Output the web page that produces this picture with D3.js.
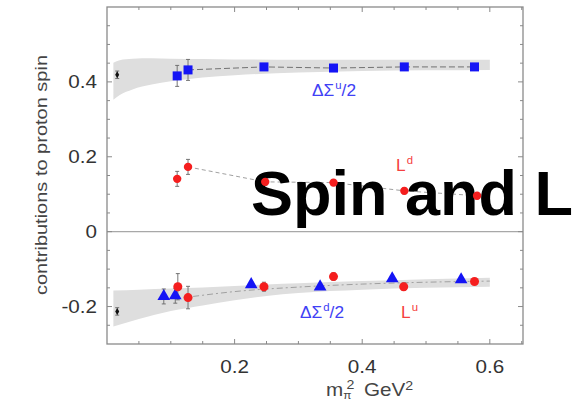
<!DOCTYPE html>
<html><head><meta charset="utf-8">
<script src="https://cdn.jsdelivr.net/npm/d3@7"></script>
<style>body{margin:0;background:#fff}svg{display:block}</style>
</head><body>
<svg id="c" width="580" height="406"></svg>
<script>
// ---- data ----
const xTicks = [0.2, 0.4, 0.6];
const yTicks = [-0.2, 0, 0.2, 0.4];
const xTickLabels = ["0.2", "0.4", "0.6"];
const yTickLabels = ["-0.2", "0", "0.2", "0.4"];

const sigUx = [0.110, 0.127, 0.246, 0.355, 0.466, 0.576];
const sigUy = [0.416, 0.432, 0.440, 0.437, 0.440, 0.440];
const sigUe = [0.028, 0.028, 0.008, 0.006, 0.005, 0.005];

const lDx = [0.110, 0.127, 0.248, 0.355, 0.466, 0.580];
const lDy = [0.141, 0.173, 0.133, 0.131, 0.109, 0.096];
const lDe = [0.020, 0.020, 0.010, 0.008, 0.008, 0.008];

const sigDx = [0.089, 0.107, 0.226, 0.334, 0.447, 0.555];
const sigDy = [-0.173, -0.171, -0.141, -0.147, -0.125, -0.128];
const sigDe = [0.020, 0.020, 0.008, 0.006, 0.006, 0.006];

const lUx = [0.111, 0.127, 0.246, 0.355, 0.465, 0.576];
const lUy = [-0.147, -0.176, -0.147, -0.120, -0.147, -0.133];
const lUe = [0.035, 0.030, 0.012, 0.010, 0.010, 0.008];

const physX = [0.016, 0.016];
const physY = [0.419, -0.213];
const physE = [0.010, 0.010];

const bandUx   = [0.01, 0.02, 0.04, 0.07, 0.10, 0.15, 0.20, 0.30, 0.40, 0.50, 0.60];
const bandUtop = [0.451, 0.458, 0.462, 0.463, 0.462, 0.461, 0.460, 0.459, 0.459, 0.459, 0.459];
const bandUbot = [0.352, 0.365, 0.380, 0.393, 0.402, 0.412, 0.418, 0.425, 0.429, 0.431, 0.432];

const bandDx   = [0.01, 0.05, 0.10, 0.15, 0.20, 0.25, 0.30, 0.40, 0.50, 0.60];
const bandDtop = [-0.157, -0.155, -0.152, -0.149, -0.145, -0.141, -0.138, -0.132, -0.127, -0.123];
const bandDbot = [-0.253, -0.233, -0.212, -0.197, -0.183, -0.172, -0.164, -0.155, -0.150, -0.147];

const fitDx = [0.135, 0.20, 0.30, 0.40, 0.50, 0.60];
const fitDy = [-0.173, -0.160, -0.148, -0.140, -0.135, -0.132];

// ---- layout ----
const L = 107, R = 523, T = 7, B = 344;
const x = d3.scaleLinear().domain([0, 0.652]).range([L, R]);
const y = d3.scaleLinear().domain([-0.3, 0.6]).range([B, T]);
const svg = d3.select("#c");
const font = "'Liberation Sans', Arial, Helvetica, sans-serif";
const BLUE = "#1414f5", RED = "#f51e1e";
const SX = 1.18; // horizontal stretch of the original figure's lettering

const zip = (xs, ys, es) => xs.map((v, i) => ({x: v, y: ys[i], e: es ? es[i] : 0}));

// bands
function band(xs, top, bot) {
  const d = xs.map((v, i) => ({x: v, t: top[i], b: bot[i]}));
  svg.append("path").datum(d)
    .attr("d", d3.area().x(p => x(p.x)).y0(p => y(p.b)).y1(p => y(p.t)).curve(d3.curveMonotoneX))
    .attr("fill", "#dedede");
}
band(bandUx, bandUtop, bandUbot);
band(bandDx, bandDtop, bandDbot);

// zero line
svg.append("line").attr("x1", L).attr("x2", R).attr("y1", y(0)).attr("y2", y(0))
  .attr("stroke", "#a8a8a8").attr("stroke-width", 1.4);

// frame
svg.append("rect").attr("x", L).attr("y", T).attr("width", R - L).attr("height", B - T)
  .attr("fill", "none").attr("stroke", "#8a8a8a").attr("stroke-width", 1.3);

// ticks (inward, all sides)
const minorX = d3.range(0.05, 0.651, 0.05);
const minorY = d3.range(-0.25, 0.551, 0.05);
const tg = svg.append("g").attr("stroke", "#8a8a8a").attr("stroke-width", 1);
minorX.forEach(v => {
  const len = Math.round(v * 20) % 4 === 0 ? 5 : 3;
  tg.append("line").attr("x1", x(v)).attr("x2", x(v)).attr("y1", B).attr("y2", B - len);
  tg.append("line").attr("x1", x(v)).attr("x2", x(v)).attr("y1", T).attr("y2", T + len);
});
minorY.forEach(v => {
  const len = Math.abs(Math.round(v * 20)) % 4 === 0 ? 5 : 3;
  tg.append("line").attr("x1", L).attr("x2", L + len).attr("y1", y(v)).attr("y2", y(v));
  tg.append("line").attr("x1", R).attr("x2", R - len).attr("y1", y(v)).attr("y2", y(v));
});

// tick labels (stretched horizontally like the source figure)
svg.append("g").selectAll("text").data(xTicks).join("text")
  .attr("transform", d => `translate(${x(d)},373) scale(${SX},1)`).attr("text-anchor", "middle")
  .attr("font-family", font).attr("font-size", 17.5).attr("fill", "#333")
  .text((d, i) => xTickLabels[i]);
svg.append("g").selectAll("text").data(yTicks).join("text")
  .attr("transform", d => `translate(97,${y(d) + 6.5}) scale(${SX},1)`).attr("text-anchor", "end")
  .attr("font-family", font).attr("font-size", 17.5).attr("fill", "#333")
  .text((d, i) => yTickLabels[i]);

// axis titles
svg.append("text").attr("transform", "translate(47,175) rotate(-90)")
  .attr("text-anchor", "middle").attr("font-family", font).attr("font-size", 17).attr("fill", "#444")
  .attr("textLength", 240).attr("lengthAdjust", "spacingAndGlyphs")
  .text("contributions to proton spin");
const xt = svg.append("text").attr("transform", `translate(326,396) scale(${SX},1)`)
  .attr("font-family", font).attr("font-size", 17.5).attr("fill", "#444");
xt.append("tspan").text("m");
xt.append("tspan").attr("font-size", 10).attr("dy", 3).text("π");
xt.append("tspan").attr("font-size", 12).attr("dx", -4).attr("dy", -10).text("2");
xt.append("tspan").attr("dx", 8).attr("dy", 7).text("GeV");
xt.append("tspan").attr("font-size", 12).attr("dy", -6).text("2");

// connecting lines
const lineGen = d3.line().x(p => x(p.x)).y(p => y(p.y));
svg.append("path").datum(zip(sigUx, sigUy).slice(1))
  .attr("d", lineGen).attr("fill", "none").attr("stroke", "#555").attr("stroke-width", 0.8)
  .attr("stroke-dasharray", "6,3");
svg.append("path").datum(zip(lDx, lDy).slice(1))
  .attr("d", lineGen).attr("fill", "none").attr("stroke", "#888").attr("stroke-width", 0.8)
  .attr("stroke-dasharray", "4,3");
svg.append("path").datum(zip(fitDx, fitDy))
  .attr("d", d3.line().x(p => x(p.x)).y(p => y(p.y)).curve(d3.curveMonotoneX))
  .attr("fill", "none").attr("stroke", "#999").attr("stroke-width", 0.9)
  .attr("stroke-dasharray", "6,3,2,3");

// error bars
function errs(data) {
  const g = svg.append("g").attr("stroke", "#666").attr("stroke-width", 0.9);
  data.forEach(p => {
    g.append("line").attr("x1", x(p.x)).attr("x2", x(p.x)).attr("y1", y(p.y - p.e)).attr("y2", y(p.y + p.e));
    [p.y - p.e, p.y + p.e].forEach(v =>
      g.append("line").attr("x1", x(p.x) - 2).attr("x2", x(p.x) + 2).attr("y1", y(v)).attr("y2", y(v)));
  });
}
const dSU = zip(sigUx, sigUy, sigUe), dLD = zip(lDx, lDy, lDe),
      dSD = zip(sigDx, sigDy, sigDe), dLU = zip(lUx, lUy, lUe), dPh = zip(physX, physY, physE);
[dSU, dLD, dSD, dLU, dPh].forEach(errs);

// series labels
function label(px, py, main, sup, tail, color) {
  const t = svg.append("text").attr("transform", `translate(${px},${py}) scale(1.08,1)`)
    .attr("font-family", font).attr("font-size", 16).attr("fill", color);
  t.append("tspan").text(main);
  t.append("tspan").attr("font-size", 10.5).attr("dx", 1).attr("dy", -7).text(sup);
  if (tail) t.append("tspan").attr("dy", 7).text(tail);
}
label(312, 96, "ΔΣ", "u", "/2", "#4040f5");
label(300, 318, "ΔΣ", "d", "/2", "#4040f5");
label(396, 171, "L", "d", "", "#f54040");
label(401, 318, "L", "u", "", "#f54040");

// overlay title (sits under the plot markers, over the lines)
svg.append("text").attr("x", 251).attr("y", 215)
  .attr("font-family", font).attr("font-weight", "bold").attr("font-size", 63).attr("fill", "#000")
  .text("Spin and L");

// markers
svg.append("g").selectAll("rect").data(dSU).join("rect")
  .attr("x", p => x(p.x) - 4.5).attr("y", p => y(p.y) - 4.5).attr("width", 9).attr("height", 9)
  .attr("fill", BLUE);
svg.append("g").selectAll("circle").data(dLD).join("circle")
  .attr("cx", p => x(p.x)).attr("cy", p => y(p.y)).attr("r", 4.2).attr("fill", RED);
svg.append("g").selectAll("path").data(dSD).join("path")
  .attr("transform", p => `translate(${x(p.x)},${y(p.y)})`)
  .attr("d", d3.symbol(d3.symbolTriangle, 70)).attr("fill", BLUE);
svg.append("g").selectAll("circle").data(dLU).join("circle")
  .attr("cx", p => x(p.x)).attr("cy", p => y(p.y)).attr("r", 4.5).attr("fill", RED);
svg.append("g").selectAll("path").data(dPh).join("path")
  .attr("transform", p => `translate(${x(p.x)},${y(p.y)})`)
  .attr("d", d3.symbol(d3.symbolDiamond, 14)).attr("fill", "#111");
</script>
</body></html>
